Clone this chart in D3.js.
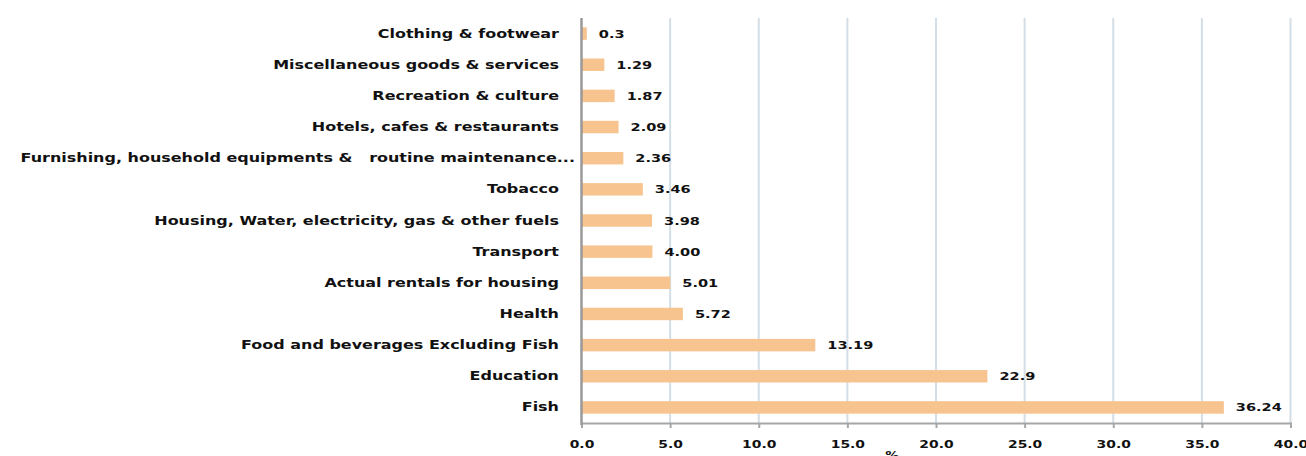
<!DOCTYPE html>
<html>
<head>
<meta charset="utf-8">
<script src="https://cdn.jsdelivr.net/npm/d3@7"></script>
<style>
  body { margin: 0; background: #fff; }
  text { font-family: "DejaVu Sans", Verdana, sans-serif; font-weight: bold; fill: #111; white-space: pre; }
</style>
</head>
<body>
<div id="graph"></div>
<script>
// categories, top to bottom
var categories = [
    "Clothing & footwear",
    "Miscellaneous goods & services",
    "Recreation & culture",
    "Hotels, cafes & restaurants",
    "Furnishing, household equipments &   routine maintenance...",
    "Tobacco",
    "Housing, Water, electricity, gas & other fuels",
    "Transport",
    "Actual rentals for housing",
    "Health",
    "Food and beverages Excluding Fish",
    "Education",
    "Fish"
];
var values = [0.3, 1.29, 1.87, 2.09, 2.36, 3.46, 3.98, 4.00, 5.01, 5.72, 13.19, 22.9, 36.24];
var valueLabels = ["0.3", "1.29", "1.87", "2.09", "2.36", "3.46", "3.98", "4.00", "5.01", "5.72", "13.19", "22.9", "36.24"];
var xTicks = [0, 5, 10, 15, 20, 25, 30, 35, 40];
var axisTitle = "%";

var width = 1306;
var height = 456;
var sx = 1.3; // text looks stretched sideways in the original

var data = categories.map(function(c, i) {
    return { cat: c, value: values[i], label: valueLabels[i] };
});

var x = d3.scaleLinear()
    .domain([0, 40])
    .range([581.5, 1290.5]);

var y = d3.scaleBand()
    .domain(categories)
    .range([18, 423])
    .paddingInner(0.6)
    .paddingOuter(0.3);

var svg = d3.select('#graph')
    .append('svg')
    .attr('width', width)
    .attr('height', height);

// vertical gridlines
svg.append("g")
    .selectAll("line")
    .data(xTicks.slice(1))
    .enter()
    .append("line")
    .attr("x1", d => x(d))
    .attr("x2", d => x(d))
    .attr("y1", 18)
    .attr("y2", 423)
    .attr("stroke", "#d3dee6")
    .attr("stroke-width", 2);

// bars
svg.append("g")
    .selectAll("rect")
    .data(data)
    .enter()
    .append("rect")
    .attr("x", x(0))
    .attr("y", d => y(d.cat))
    .attr("width", d => x(d.value) - x(0))
    .attr("height", y.bandwidth())
    .attr("fill", "#f7c48f");

// bottom axis
var xAxis = d3.axisBottom(x)
    .tickValues(xTicks)
    .tickSize(5)
    .tickFormat(d3.format(".1f"));

var gx = svg.append("g")
    .attr("transform", "translate(0,423)")
    .call(xAxis);
gx.select(".domain").attr("stroke", "#a6a6a6").attr("stroke-width", 2);
gx.selectAll(".tick line").attr("stroke", "#a6a6a6").attr("stroke-width", 2);
gx.selectAll(".tick text")
    .attr("y", null)
    .attr("dy", null)
    .style("font-size", "10.7px")
    .attr("font-family", null)
    .attr("transform", "translate(0,24.5) scale(" + sx + ",1)");

// left axis line
svg.append("line")
    .attr("x1", x(0))
    .attr("x2", x(0))
    .attr("y1", 18)
    .attr("y2", 425)
    .attr("stroke", "#999")
    .attr("stroke-width", 2.5);

// category labels
svg.append("g")
    .selectAll("text")
    .data(data)
    .enter()
    .append("text")
    .text(d => d.cat)
    .style("font-size", "12.3px")
    .style("text-anchor", "end")
    .attr("transform", function(d) {
        var ex = d.cat.endsWith("...") ? 575 : 559;
        return "translate(" + ex + "," + (y(d.cat) + y.bandwidth() / 2 + 4) + ") scale(" + sx + ",1)";
    });

// value labels
svg.append("g")
    .selectAll("text")
    .data(data)
    .enter()
    .append("text")
    .text(d => d.label)
    .style("font-size", "11.2px")
    .attr("transform", function(d) {
        return "translate(" + (x(d.value) + 12) + "," + (y(d.cat) + y.bandwidth() / 2 + 4) + ") scale(" + sx + ",1)";
    });

// axis title, partly cut off at the bottom edge as in the original
svg.append("text")
    .text(axisTitle)
    .style("font-size", "10.5px")
    .style("text-anchor", "middle")
    .attr("transform", "translate(892,459) scale(" + sx + ",1)");
</script>
</body>
</html>
